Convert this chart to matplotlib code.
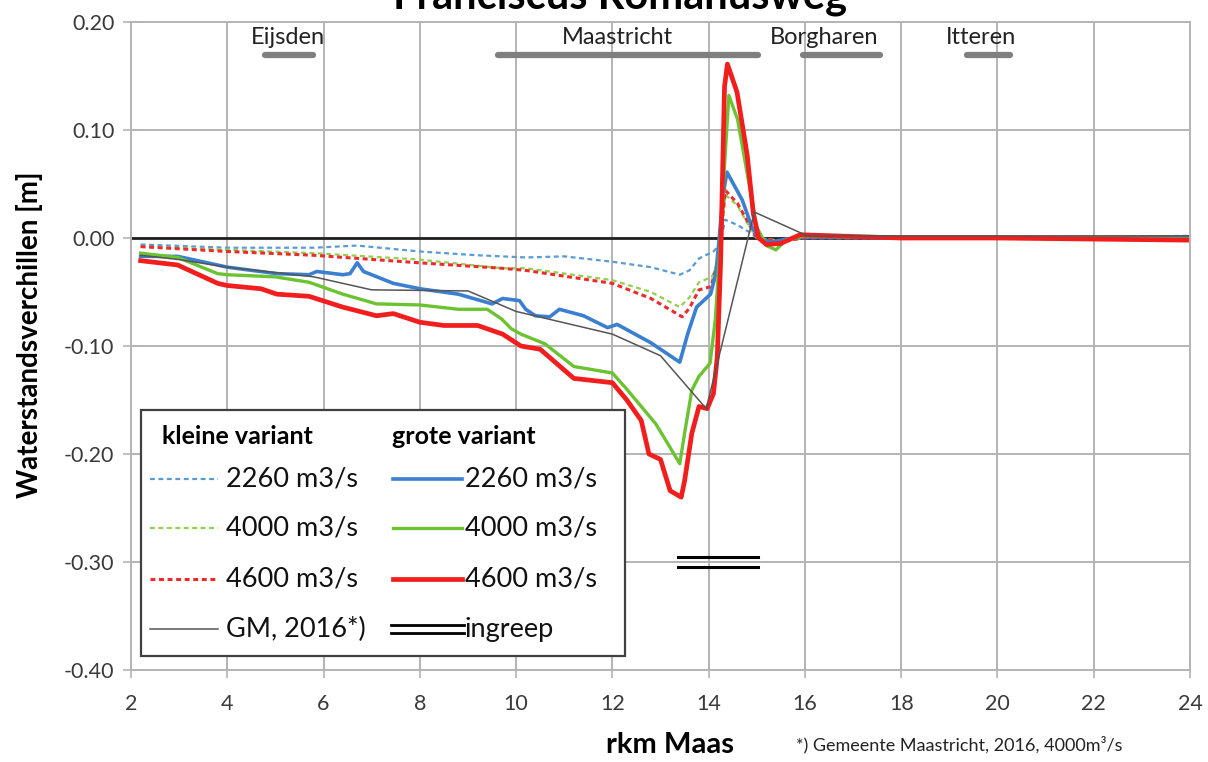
import matplotlib
matplotlib.use("Agg")
import matplotlib.pyplot as plt
from matplotlib.patches import Rectangle

plt.rcParams["font.family"] = ["Lato", "DejaVu Sans"]

# river km along the Maas, water level differences [m]
km_k2260 = [2.2, 4.0, 5.8, 6.7, 8.0, 9.2, 10.2, 11.0, 12.0, 12.8, 13.4, 13.6, 13.8, 14.1, 14.25,
            14.34, 14.6, 14.86, 15.0, 15.5, 16, 18, 20, 22, 24]
dh_k2260 = [-0.006, -0.009, -0.009, -0.007, -0.0125, -0.016, -0.018, -0.017, -0.022, -0.027, -0.034,
            -0.030, -0.019, -0.0125, -0.005, 0.017, 0.012, 0.005, 0.0, -0.002, 0.0, 0.0, 0.0, 0.001, 0.002]

km_k4000 = [2.2, 4.0, 5.8, 8.0, 9.7, 10.2, 12.0, 12.8, 13.4, 13.6, 13.8, 14.07, 14.2, 14.35, 14.6,
            14.85, 15.0, 15.5, 16, 18, 20, 22, 24]
dh_k4000 = [-0.008, -0.011, -0.014, -0.020, -0.028, -0.028, -0.039, -0.050, -0.064, -0.055, -0.041,
            -0.036, -0.020, 0.040, 0.030, 0.010, 0.0, -0.003, 0.0, 0.0, 0.0, 0.0, 0.001]

km_k4600 = [2.2, 4.0, 5.8, 8.0, 9.7, 10.2, 12.0, 12.8, 13.45, 13.6, 13.8, 14.05, 14.2, 14.35, 14.6,
            14.85, 15.0, 15.5, 16, 18, 20, 22, 24]
dh_k4600 = [-0.008, -0.0125, -0.016, -0.023, -0.028, -0.030, -0.042, -0.056, -0.073, -0.065, -0.048,
            -0.045, -0.020, 0.044, 0.032, 0.012, 0.0, -0.003, 0.0, 0.0, 0.0, 0.0, 0.0]

km_g2260 = [2.2, 2.97, 4.0, 5.03, 5.7, 5.86, 6.4, 6.55, 6.7, 6.83, 7.45, 8.0, 8.8, 9.5, 9.72, 10.07,
            10.2, 10.4, 10.7, 10.9, 11.4, 11.9, 12.1, 12.8, 13.2, 13.4, 13.57, 13.75, 14.04, 14.15,
            14.22, 14.3, 14.38, 14.7, 14.9, 15.05, 15.3, 15.6, 16, 18, 20, 22, 24]
dh_g2260 = [-0.017, -0.017, -0.027, -0.033, -0.034, -0.031, -0.034, -0.033, -0.023, -0.031, -0.042,
            -0.047, -0.052, -0.061, -0.056, -0.058, -0.066, -0.072, -0.073, -0.066, -0.072, -0.083,
            -0.080, -0.097, -0.109, -0.115, -0.088, -0.064, -0.052, -0.033, 0.0, 0.040, 0.061, 0.035,
            0.010, 0.0, -0.004, -0.001, 0.001, 0.0, 0.0, 0.0, 0.001]

km_g4000 = [2.2, 2.97, 3.8, 4.0, 5.0, 5.7, 6.4, 7.1, 8.0, 8.8, 9.4, 9.7, 9.9, 10.1, 10.6, 11.2, 12.0,
            12.3, 12.6, 12.9, 13.2, 13.4, 13.5, 13.65, 13.8, 14.03, 14.14, 14.22, 14.32, 14.42, 14.6,
            14.8, 15.0, 15.2, 15.4, 15.6, 16, 18, 20, 22, 24]
dh_g4000 = [-0.014, -0.018, -0.033, -0.034, -0.036, -0.041, -0.052, -0.061, -0.062, -0.066, -0.066,
            -0.075, -0.084, -0.089, -0.098, -0.119, -0.125, -0.140, -0.156, -0.172, -0.194, -0.209,
            -0.181, -0.141, -0.128, -0.116, -0.075, -0.020, 0.060, 0.132, 0.110, 0.060, 0.010, -0.007,
            -0.011, -0.002, 0.002, 0.0, 0.0, 0.0, -0.001]

km_g4600 = [2.2, 2.97, 3.8, 4.0, 4.7, 5.03, 5.7, 6.4, 7.1, 7.45, 8.0, 8.5, 9.2, 9.72, 10.1, 10.5,
            11.2, 12.0, 12.3, 12.6, 12.76, 13.0, 13.2, 13.43, 13.5, 13.65, 13.8, 13.97, 14.1, 14.18,
            14.25, 14.33, 14.39, 14.59, 14.8, 14.93, 15.04, 15.2, 15.5, 15.9, 18, 20, 22, 24]
dh_g4600 = [-0.021, -0.025, -0.042, -0.044, -0.047, -0.052, -0.054, -0.064, -0.072, -0.070, -0.078,
            -0.081, -0.081, -0.089, -0.100, -0.103, -0.130, -0.134, -0.150, -0.169, -0.200, -0.205,
            -0.234, -0.240, -0.225, -0.181, -0.156, -0.158, -0.144, -0.110, -0.020, 0.140, 0.161,
            0.135, 0.077, 0.022, 0.0, -0.006, -0.005, 0.003, 0.0, 0.0, -0.001, -0.002]

km_gm = [2.2, 3.0, 4.0, 5.8, 7.0, 9.0, 10.0, 12.0, 13.0, 13.95, 14.95, 16.05, 24]
dh_gm = [-0.016, -0.020, -0.027, -0.036, -0.048, -0.049, -0.068, -0.089, -0.109, -0.158, 0.024,
         0.002, 0.002]

towns = ["Eijsden", "Maastricht", "Borgharen", "Itteren"]
town_start = [4.78, 9.62, 15.97, 19.36]
town_end = [5.78, 15.03, 17.57, 20.27]
town_label_x = [5.26, 12.1, 16.4, 19.65]

ingreep_km = [13.37, 15.03]

fig = plt.figure(figsize=(12.08, 7.62), dpi=100)
ax = fig.add_axes([131 / 1208, 1 - 670 / 762, 1059 / 1208, 648 / 762])

grid_c = "#b4b4b4"
ax.set_xlim(2, 24)
ax.set_ylim(-0.40, 0.20)
ax.set_xticks(range(2, 25, 2))
ax.set_yticks([-0.4, -0.3, -0.2, -0.1, 0.0, 0.1, 0.2])
ax.set_yticklabels([f"{v:.2f}" for v in ax.get_yticks()])
ax.grid(True, color=grid_c, linewidth=1.4)
ax.set_axisbelow(True)
for s in ax.spines.values():
    s.set_color(grid_c)
    s.set_linewidth(1.4)
ax.tick_params(direction="inout", length=12, width=1.2, color=grid_c,
               labelsize=15.5, labelcolor="#3a3a3a")
ax.tick_params(axis="x", pad=11)
ax.tick_params(axis="y", pad=6)

ax.axhline(0, color="#202020", linewidth=2)

c_blue, c_green, c_red = "#3b7fd0", "#6cc332", "#f21d1d"
c_blue_l, c_green_l, c_red_l = "#5b9bd5", "#92d050", "#ee2a2a"

ax.plot(km_k2260, dh_k2260, color=c_blue_l, lw=1.6, ls=(0, (2.2, 1.6)))
ax.plot(km_k4000, dh_k4000, color=c_green_l, lw=1.6, ls=(0, (2.2, 1.6)))
ax.plot(km_k4600, dh_k4600, color=c_red_l, lw=2.2, ls=(0, (1.6, 1.2)))
ax.plot(km_g2260, dh_g2260, color=c_blue, lw=2.6)
ax.plot(km_g4000, dh_g4000, color=c_green, lw=2.4)
ax.plot(km_g4600, dh_g4600, color=c_red, lw=3.4)
ax.plot(km_gm, dh_gm, color="#555555", lw=1.1)

for name, a, b, lx in zip(towns, town_start, town_end, town_label_x):
    ax.plot([a, b], [0.169, 0.169], color="#7f7f7f", lw=4.5, solid_capstyle="round")
    ax.text(lx, 0.186, name, ha="center", va="center", fontsize=17, color="#222222")

ax.plot(ingreep_km, [-0.2955, -0.2955], color="black", lw=2.2)
ax.plot(ingreep_km, [-0.3045, -0.3045], color="black", lw=2.2)

# legend box, drawn by hand to get the two header rows
def axp(px, py):
    return (px - 131) / 1059, (670 - py) / 648

tr = ax.transAxes
x0, y0 = axp(141, 656)
x1, y1 = axp(625, 410)
ax.add_patch(Rectangle((x0, y0), x1 - x0, y1 - y0, transform=tr, facecolor="white",
                       edgecolor="#404040", lw=1.6, zorder=5))
hx, hy = axp(162, 436)
ax.text(hx, hy, "kleine variant", transform=tr, fontsize=18, fontweight="bold",
        va="center", zorder=6)
hx, hy = axp(392, 436)
ax.text(hx, hy, "grote variant", transform=tr, fontsize=18, fontweight="bold",
        va="center", zorder=6)

rows = [479, 528, 579, 629]
left_entries = [("2260 m3/s", c_blue_l, 1.6, (0, (2.2, 1.6))),
                ("4000 m3/s", c_green_l, 1.6, (0, (2.2, 1.6))),
                ("4600 m3/s", c_red_l, 2.2, (0, (1.6, 1.2))),
                ("GM, 2016*)", "#555555", 1.1, "-")]
right_entries = [("2260 m3/s", c_blue, 2.6),
                 ("4000 m3/s", c_green, 2.4),
                 ("4600 m3/s", c_red, 3.4)]
for py, (lab, col, lw, ls) in zip(rows, left_entries):
    a, yy = axp(150, py)
    b, _ = axp(218, py)
    t, _ = axp(226, py)
    ax.plot([a, b], [yy, yy], transform=tr, color=col, lw=lw, ls=ls, zorder=6)
    ax.text(t, yy, lab, transform=tr, fontsize=19.5, va="center", color="#111111", zorder=6)
for py, (lab, col, lw) in zip(rows, right_entries):
    a, yy = axp(393, py)
    b, _ = axp(462, py)
    t, _ = axp(465, py)
    ax.plot([a, b], [yy, yy], transform=tr, color=col, lw=lw, zorder=6)
    ax.text(t, yy, lab, transform=tr, fontsize=19.5, va="center", color="#111111", zorder=6)
a, yy = axp(391, 629)
b, _ = axp(464, 629)
t, _ = axp(465, 629)
for dy in (-4, 4):
    _, yl = axp(0, 629 + dy)
    ax.plot([a, b], [yl, yl], transform=tr, color="black", lw=2.0, zorder=6)
ax.text(t, yy, "ingreep", transform=tr, fontsize=19.5, va="center", color="#111111", zorder=6)

fig.text(30 / 1208, 1 - 335 / 762, "Waterstandsverchillen [m]", fontsize=20, fontweight="bold",
         rotation=90, ha="center", va="center")
fig.text(670 / 1208, 1 - 745 / 762, "rkm Maas", fontsize=21, fontweight="bold",
         ha="center", va="center")
fig.text(796 / 1208, 1 - 745 / 762, "*) Gemeente Maastricht, 2016, 4000m\u00b3/s", fontsize=13,
         ha="left", va="center", color="#222222")
fig.text(620 / 1208, 1 - 8 / 762, "Franciscus Romanusweg", fontsize=30, fontweight="bold",
         ha="center", va="baseline")

fig.savefig("out.png", dpi=100)
